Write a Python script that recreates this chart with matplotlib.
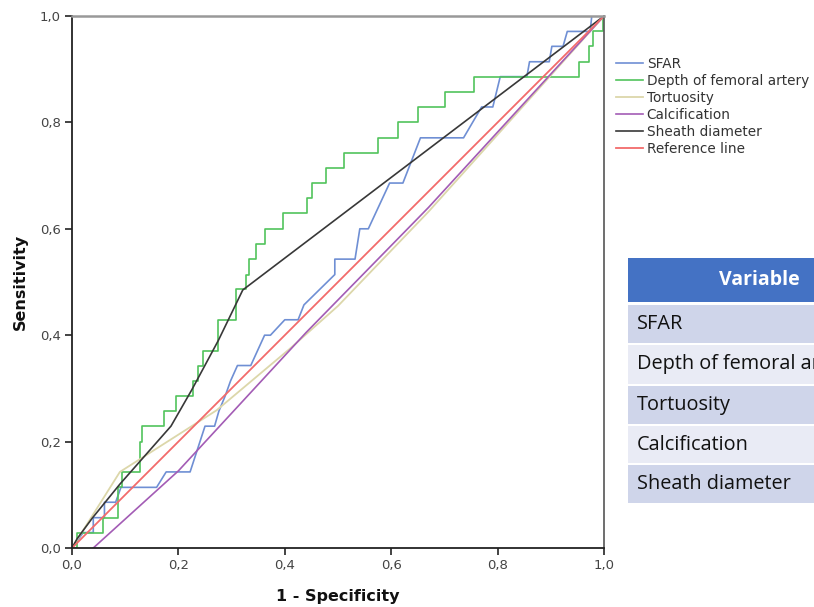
import matplotlib.pyplot as plt
from matplotlib.patches import Rectangle

# ROC curves (1 - specificity, sensitivity)
sfar_x = [0, 0.021, 0.040, 0.040, 0.061, 0.061, 0.082, 0.092, 0.159, 0.177, 0.222, 0.250,
          0.268, 0.276, 0.288, 0.298, 0.311, 0.336, 0.362, 0.373, 0.400, 0.425, 0.436,
          0.494, 0.494, 0.532, 0.541, 0.557, 0.597, 0.622, 0.655, 0.736, 0.770, 0.791,
          0.805, 0.855, 0.860, 0.897, 0.902, 0.923, 0.931, 0.974, 0.977, 1.0]
sfar_y = [0, 0.029, 0.029, 0.057, 0.057, 0.086, 0.086, 0.114, 0.114, 0.143, 0.143, 0.229,
          0.229, 0.257, 0.286, 0.314, 0.343, 0.343, 0.400, 0.400, 0.429, 0.429, 0.457,
          0.514, 0.543, 0.543, 0.600, 0.600, 0.686, 0.686, 0.771, 0.771, 0.829, 0.829,
          0.886, 0.886, 0.914, 0.914, 0.943, 0.943, 0.971, 0.971, 1.0, 1.0]

depth_x = [0, 0.010, 0.010, 0.058, 0.058, 0.086, 0.086, 0.094, 0.094, 0.128, 0.128, 0.131,
           0.131, 0.173, 0.173, 0.195, 0.195, 0.228, 0.228, 0.237, 0.237, 0.246, 0.246,
           0.275, 0.275, 0.309, 0.309, 0.328, 0.328, 0.333, 0.333, 0.346, 0.346, 0.363,
           0.363, 0.397, 0.397, 0.441, 0.441, 0.452, 0.452, 0.477, 0.477, 0.512, 0.512,
           0.576, 0.576, 0.613, 0.613, 0.650, 0.650, 0.701, 0.701, 0.756, 0.756, 0.953,
           0.953, 0.972, 0.972, 0.979, 0.979, 0.998, 0.998, 1.0]
depth_y = [0, 0, 0.029, 0.029, 0.057, 0.057, 0.114, 0.114, 0.143, 0.143, 0.200, 0.200,
           0.229, 0.229, 0.257, 0.257, 0.286, 0.286, 0.314, 0.314, 0.343, 0.343, 0.371,
           0.371, 0.429, 0.429, 0.486, 0.486, 0.514, 0.514, 0.543, 0.543, 0.571, 0.571,
           0.600, 0.600, 0.629, 0.629, 0.657, 0.657, 0.686, 0.686, 0.714, 0.714, 0.743,
           0.743, 0.771, 0.771, 0.800, 0.800, 0.829, 0.829, 0.857, 0.857, 0.886, 0.886,
           0.914, 0.914, 0.943, 0.943, 0.971, 0.971, 1.0, 1.0]

tort_x = [0, 0.090, 0.272, 0.410, 0.500, 0.670, 1.0]
tort_y = [0, 0.143, 0.259, 0.375, 0.455, 0.632, 1.0]

calc_x = [0.040, 0.200, 0.440, 0.670, 1.0]
calc_y = [0, 0.145, 0.405, 0.640, 1.0]

sheath_x = [0, 0.010, 0.038, 0.090, 0.186, 0.225, 0.275, 0.321, 1.0]
sheath_y = [0, 0.018, 0.056, 0.120, 0.229, 0.297, 0.390, 0.485, 1.0]

ref_x = [0, 1]
ref_y = [0, 1]

ticks = [0, 0.2, 0.4, 0.6, 0.8, 1.0]
tick_labels = ["0,0", "0,2", "0,4", "0,6", "0,8", "1,0"]

table_header = "Variable"
table_rows = ["SFAR", "Depth of femoral artery", "Tortuosity", "Calcification", "Sheath diameter"]

W, H = 814, 607
fig = plt.figure(figsize=(W / 100, H / 100), dpi=100)
ax = fig.add_axes([72 / W, 59 / H, 532 / W, 532 / H])

ax.plot(sfar_x, sfar_y, color="#6f8fd4", lw=1.2, label="SFAR")
ax.plot(depth_x, depth_y, color="#52c45c", lw=1.2, label="Depth of femoral artery")
ax.plot(tort_x, tort_y, color="#dcd7aa", lw=1.3, label="Tortuosity")
ax.plot(calc_x, calc_y, color="#a35cb5", lw=1.2, label="Calcification")
ax.plot(sheath_x, sheath_y, color="#383838", lw=1.2, label="Sheath diameter")
ax.plot(ref_x, ref_y, color="#f26b6b", lw=1.3, label="Reference line")

ax.set_xlim(0, 1)
ax.set_ylim(0, 1)
ax.set_xticks(ticks)
ax.set_xticklabels(tick_labels)
ax.set_yticks(ticks)
ax.set_yticklabels(tick_labels)
ax.tick_params(direction="out", length=5, width=1.2, color="#222222",
               labelsize=9.5, labelcolor="#444444", pad=3)
for s in ["left", "bottom"]:
    ax.spines[s].set_color("#222222")
    ax.spines[s].set_linewidth(1.3)
ax.spines["top"].set_color("#999999")
ax.spines["top"].set_linewidth(1.8)
ax.spines["right"].set_color("#555555")
ax.spines["right"].set_linewidth(1.2)

ax.set_xlabel("1 - Specificity", fontsize=11.5, fontweight="bold", color="#111111", labelpad=12)
ax.set_ylabel("Sensitivity", fontsize=11.5, fontweight="bold", color="#111111", labelpad=9)

fig.legend(loc="upper left", bbox_to_anchor=(616 / W, 1 - 57 / H), frameon=False,
           fontsize=9.8, handlelength=2.0, handletextpad=0.25, labelspacing=0.22,
           borderaxespad=0, borderpad=0, labelcolor="#333333")

# pasted table on the right
tf = fig.transFigure
fig.add_artist(Rectangle((628 / W, 1 - 302 / H), 200 / W, 44 / H, transform=tf,
                         facecolor="#4472c4", edgecolor="none"))
fig.text(800 / W, 1 - 280 / H, table_header, transform=tf, ha="right", va="center",
         color="white", fontsize=14, fontweight="bold", family="Open Sans")
row_tops = [305, 345, 386, 426, 465]
row_h = [38, 39, 38, 37, 38]
row_colors = ["#cfd5ea", "#e9ebf5", "#cfd5ea", "#e9ebf5", "#cfd5ea"]
for top, h, c, name in zip(row_tops, row_h, row_colors, table_rows):
    cell = Rectangle((628 / W, 1 - (top + h) / H), 200 / W, h / H, transform=tf,
                     facecolor=c, edgecolor="none")
    fig.add_artist(cell)
    t = fig.text(637 / W, 1 - (top + h / 2) / H, name, transform=tf, ha="left", va="center",
                 color="#111111", fontsize=14.3, family="Open Sans")
    t.set_clip_path(cell)

fig.savefig("out.png", dpi=100)
